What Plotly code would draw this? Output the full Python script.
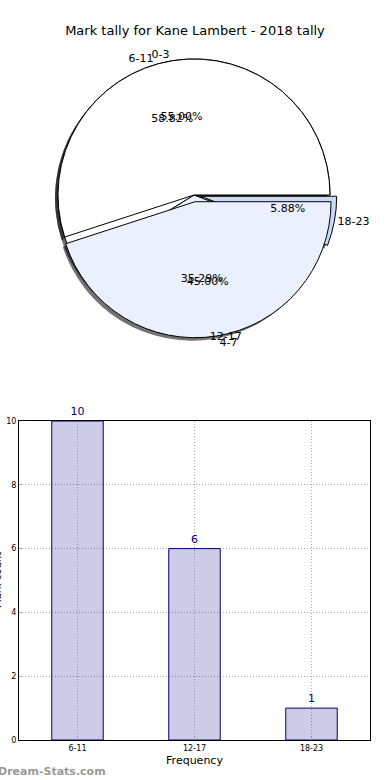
import plotly.graph_objects as go

title_text = "Mark tally for Kane Lambert - 2018 tally"
# pie A
pie_a_labels = ["6-11", "12-17", "18-23"]
pie_a_values = [10, 6, 1]
# pie B (overlaid)
pie_b_labels = ["0-3", "4-7"]
pie_b_values = [11, 9]
# bar chart
bar_categories = ["6-11", "12-17", "18-23"]
bar_values = [10, 6, 1]
y_ticks = [0, 2, 4, 6, 8, 10]

W, H = 390, 780
cx, cy, R = 194, 195, 136
PULL = 0.05
R_PCT = 0.52 * R
R_IN = 1.17 * R
SMALL = 0.1  # slices below this share get their percentage placed outside a small ring

def dom(r, dx=0, dy=0, pull=PULL):
    half = r * (1 + pull)
    return dict(x=[(cx - half + dx) / W, (cx + half + dx) / W],
                y=[1 - (cy + half + dy) / H, 1 - (cy - half + dy) / H])

slice_colors = ["#FFFFFF", "#EAF0FD", "#C9DAF8"]
font = "DejaVu Sans"

fig = go.Figure()

# slices start at 3 o'clock and run counter-clockwise (as in the source):
# clockwise from 3 o'clock with the slice order reversed gives that layout
common = dict(sort=False, direction="clockwise", rotation=90,
              hoverinfo="skip", showlegend=False)

def rev(a):
    return list(a)[::-1]

pies = [(pie_a_labels, pie_a_values, [0, 0, PULL]),
        (pie_b_labels, pie_b_values, [0, PULL])]
clear = "rgba(0,0,0,0)"
pct = "%{percent:.2%}"

# shadows
for labels, values, pull in pies:
    fig.add_trace(go.Pie(labels=rev(labels), values=rev(values), domain=dom(R, -3, 3),
                         pull=rev(pull),
                         marker=dict(colors=["rgba(0,0,0,0.55)"] * len(values),
                                     line=dict(width=0)),
                         textinfo="none", **common))
# wedges
for labels, values, pull in pies:
    fig.add_trace(go.Pie(labels=rev(labels), values=rev(values), domain=dom(R),
                         pull=rev(pull),
                         marker=dict(colors=rev(slice_colors[:len(values)]),
                                     line=dict(color="black", width=1)),
                         textinfo="none", **common))
# texts on top
for labels, values, pull in pies:
    total = sum(values)
    big = [v / total >= SMALL for v in values]
    fig.add_trace(go.Pie(labels=rev(labels), values=rev(values), domain=dom(R_IN),
                         pull=rev(pull),
                         marker=dict(colors=[clear] * len(values), line=dict(width=0)),
                         texttemplate=rev([pct if b else "" for b in big]),
                         textposition="inside", insidetextorientation="horizontal",
                         textfont=dict(family=font, size=11, color="black"),
                         **common))
    if not all(big):
        fig.add_trace(go.Pie(labels=rev(labels), values=rev(values), domain=dom(R_PCT),
                             pull=rev(pull),
                             marker=dict(colors=[clear] * len(values), line=dict(width=0)),
                             texttemplate=rev(["" if b else pct for b in big]),
                             textposition="outside",
                             outsidetextfont=dict(family=font, size=11, color="black"),
                             **common))
    fig.add_trace(go.Pie(labels=rev(labels), values=rev(values), domain=dom(R),
                         pull=rev(pull),
                         marker=dict(colors=[clear] * len(values), line=dict(width=0)),
                         texttemplate="%{label}", textposition="outside",
                         outsidetextfont=dict(family=font, size=11, color="black"),
                         **common))

fig.add_trace(go.Bar(x=bar_categories, y=bar_values, width=0.44,
                     marker=dict(color="rgba(0,0,128,0.2)",
                                 line=dict(color="#000080", width=1)),
                     text=[str(v) for v in bar_values], textposition="outside",
                     textfont=dict(family=font, size=11, color="#000080"),
                     cliponaxis=False, xaxis="x", yaxis="y", showlegend=False,
                     hoverinfo="skip"))

grid = dict(showgrid=True, gridcolor="#aaaaaa", griddash="1px,2px", gridwidth=1)

fig.update_layout(
    width=W, height=H, margin=dict(l=0, r=0, t=0, b=0, autoexpand=False),
    paper_bgcolor="white", plot_bgcolor="white",
    font=dict(family=font, color="black"),
    title=dict(text=title_text, x=0.5, xanchor="center", y=1 - 30 / H, yanchor="middle",
               font=dict(family=font, size=13, color="black")),
    xaxis=dict(domain=[19 / W, 370 / W], range=[-0.5, 2.5], showline=True, mirror=True,
               linecolor="black", linewidth=1, ticks="inside", ticklen=3,
               tickcolor="#aaaaaa", automargin=False,
               tickfont=dict(size=8, family=font), zeroline=False,
               title=dict(text="Frequency", font=dict(size=11, family=font), standoff=4),
               **grid),
    yaxis=dict(domain=[1 - 740 / H, 1 - 421 / H], range=[0, 10], tickvals=y_ticks,
               showline=True, mirror=True, linecolor="black", linewidth=1,
               ticks="inside", ticklen=3, tickcolor="#aaaaaa", automargin=False,
               tickfont=dict(size=8, family=font), zeroline=False, **grid),
    annotations=[
        dict(text="<b>Dream-Stats.com</b>", x=-4 / W, y=1 - 771 / H, xref="paper",
             yref="paper", xanchor="left", yanchor="middle", showarrow=False,
             font=dict(family=font, size=11, color="#999999")),
        dict(text="Mark count", x=-3 / W, y=1 - 580 / H, xref="paper", yref="paper",
             xanchor="center", yanchor="middle", textangle=-90, showarrow=False,
             font=dict(family=font, size=10, color="black")),
    ],
)

fig.write_html("out.html", config={"displayModeBar": False},
               post_script="document.body.style.margin='0';"
                           "document.body.style.overflow='hidden';")
